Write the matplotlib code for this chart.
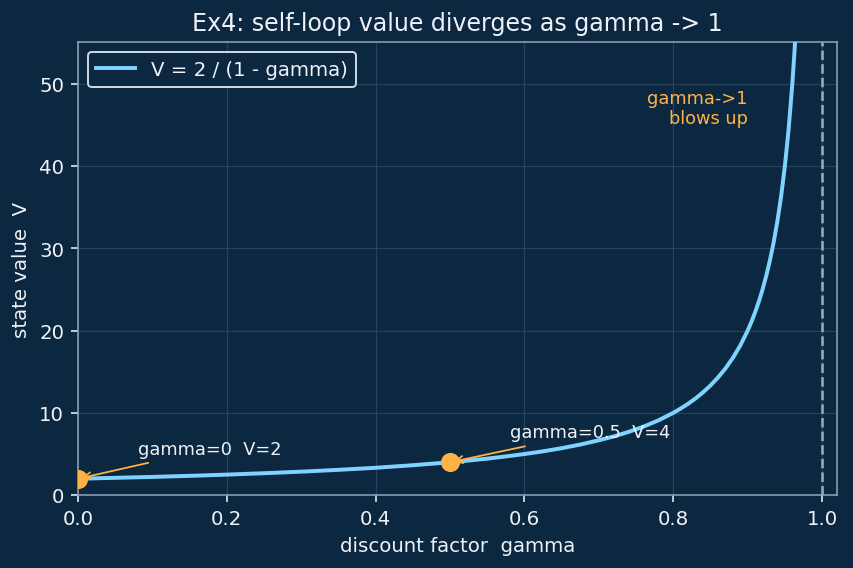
import matplotlib
matplotlib.use("Agg")
import matplotlib.pyplot as plt

# discount factor values and state values
gamma = [0.0, 0.05, 0.10, 0.15, 0.20, 0.25, 0.30, 0.35, 0.40, 0.45, 0.50,
         0.525, 0.55, 0.575, 0.60, 0.625, 0.65, 0.675, 0.70, 0.72, 0.74,
         0.76, 0.78, 0.80, 0.81, 0.82, 0.83, 0.84, 0.85, 0.86, 0.87, 0.88,
         0.89, 0.90, 0.905, 0.91, 0.915, 0.92, 0.925, 0.93, 0.935, 0.94,
         0.945, 0.95, 0.955, 0.96, 0.963, 0.966]
value = [2.00, 2.11, 2.22, 2.35, 2.50, 2.67, 2.86, 3.08, 3.33, 3.64, 4.00,
         4.21, 4.44, 4.71, 5.00, 5.33, 5.71, 6.15, 6.67, 7.14, 7.69,
         8.33, 9.09, 10.00, 10.53, 11.11, 11.76, 12.50, 13.33, 14.29, 15.38, 16.67,
         18.18, 20.00, 21.05, 22.22, 23.53, 25.00, 26.67, 28.57, 30.77, 33.33,
         36.36, 40.00, 44.44, 50.00, 54.05, 58.82]

marker_gamma = [0.0, 0.5]
marker_value = [2.0, 4.0]
marker_labels = ["gamma=0  V=2", "gamma=0.5  V=4"]
label_pos = [(0.08, 5.0), (0.58, 7.0)]

BG = "#0c2740"
FG = "#eef2f7"
LINE = "#7fd3ff"
ORANGE = "#ffb347"
SPINE = "#8ea3b8"

fig = plt.figure(figsize=(6, 4), dpi=142.2)
fig.patch.set_facecolor(BG)
ax = fig.add_axes([0.0914, 0.128, 0.8896, 0.796])
ax.set_facecolor(BG)

ax.plot(gamma, value, color=LINE, lw=2, label="V = 2 / (1 - gamma)", zorder=3,
        solid_joinstyle="round")
ax.scatter(marker_gamma, marker_value, s=75, color=ORANGE, zorder=4)
for (gx, vy), lab, (tx, ty) in zip(zip(marker_gamma, marker_value), marker_labels, label_pos):
    ax.annotate(lab, xy=(gx, vy), xytext=(tx, ty), color=FG, fontsize=9,
                arrowprops=dict(arrowstyle="->", color=ORANGE, lw=0.9))

ax.axvline(1.0, color="#9aaabb", ls="--", lw=1.3, zorder=2)
ax.text(0.9, 47, "gamma->1\nblows up", color=ORANGE, fontsize=9,
        ha="right", va="center", multialignment="right")

ax.set_xlim(0, 1.02)
ax.set_ylim(0, 55)
ax.set_title("Ex4: self-loop value diverges as gamma -> 1", color=FG, fontsize=12)
ax.set_xlabel("discount factor  gamma", color=FG, fontsize=10)
ax.set_ylabel("state value  V", color=FG, fontsize=10)
ax.tick_params(colors=FG, labelsize=10)
for s in ax.spines.values():
    s.set_color(SPINE)
ax.grid(True, color="#34506b", lw=0.6, alpha=0.7)
ax.set_axisbelow(True)

leg = ax.legend(loc="upper left", fontsize=10, facecolor=BG, edgecolor="#cfd8e0",
                labelcolor=FG, framealpha=1)

fig.savefig("out.png", dpi=142.2, facecolor=BG)
